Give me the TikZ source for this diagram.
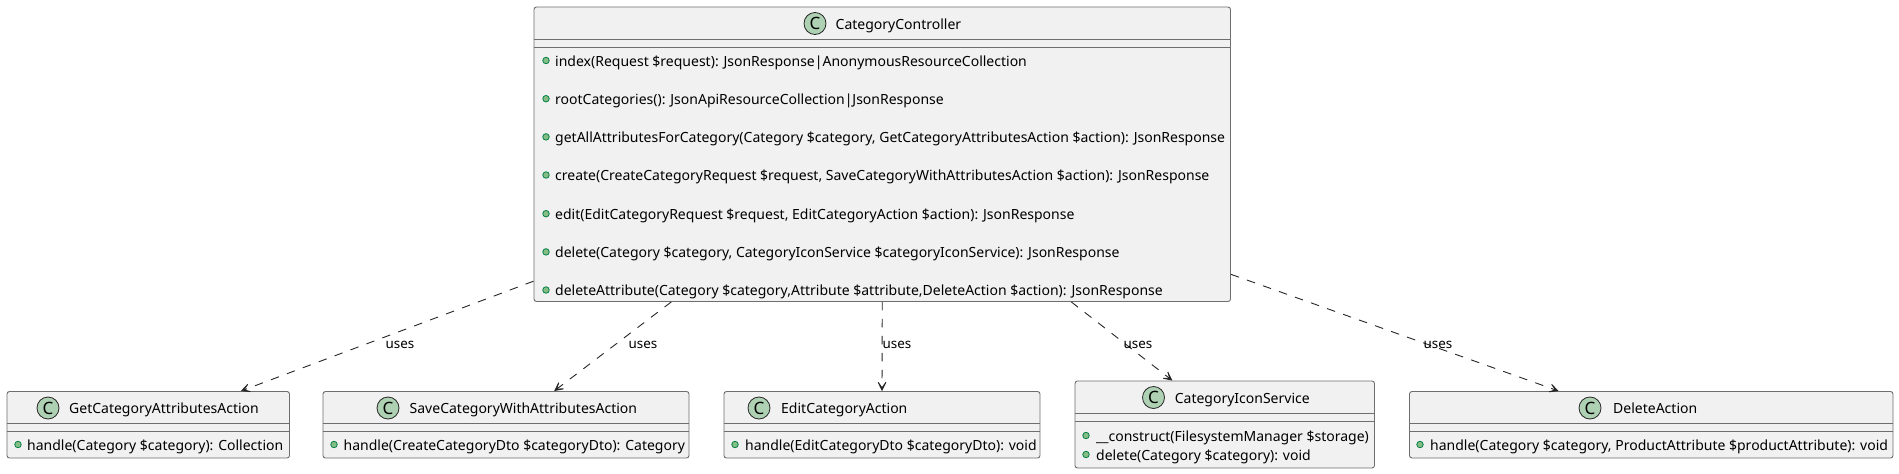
\documentclass[tikz,border=0pt]{standalone}
\usepackage{fontspec}
\setmainfont{Noto Sans}
\usetikzlibrary{arrows.meta}
\definecolor{boxfill}{HTML}{F1F1F1}
\definecolor{boxline}{HTML}{6E6E6E}
\definecolor{iconfill}{HTML}{ADD1B2}
\definecolor{dotfill}{HTML}{84BE84}
\definecolor{dotline}{HTML}{038048}
\tikzset{
  umlbox/.style={draw=boxline,fill=boxfill,line width=0.9pt,rounded corners=2.5pt,inner sep=0pt},
  divider/.style={draw=boxline,line width=0.9pt},
  classicon/.style={circle,draw=black!85,fill=iconfill,line width=0.8pt,minimum size=22pt,inner sep=0pt,font=\fontsize{17}{17}\selectfont},
  classname/.style={anchor=base west,inner sep=0pt,font=\fontsize{14}{18}\selectfont},
  membertext/.style={anchor=base west,inner sep=0pt,font=\fontsize{14}{18}\selectfont},
  memberdot/.style={circle,draw=dotline,fill=dotfill,line width=0.8pt,minimum size=6.5pt,inner sep=0pt},
  uses/.style={dashed,dash pattern=on 8.5pt off 8.5pt,line width=0.9pt,draw=black!85,-{Stealth[length=14pt,width=14pt,inset=10pt]}},
  useslabel/.style={inner sep=0pt,font=\fontsize{13.4}{18}\selectfont}
}
% name, centre x, centre y, width, height, first divider y, second divider y
\newcommand{\umlclass}[7]{
  \node (#1) [umlbox,minimum width=#4pt,minimum height=#5pt] at (#2,#3) {};
  \draw[divider] (#1.west |- 0,#6) -- (#1.east |- 0,#6);
  \draw[divider] (#1.west |- 0,#7) -- (#1.east |- 0,#7);
}
% box name, icon x, text x, icon y, baseline y, text
\newcommand{\classhead}[6]{
  \node (#1icon) [classicon] at (#2,#4) {C};
  \node (#1name) [classname] at (#3,#5) {#6};
}
% node name, dot x, text x, baseline y, text
\newcommand{\member}[5]{
  \node (#1dot) [memberdot] at (#2,#4-5.5) {};
  \node (#1) [membertext] at (#3,#4) {#5};
}
\begin{document}
\begin{tikzpicture}[x=1pt,y=-1pt]
\useasboundingbox (0,0) rectangle (1899,474);

% controller
\umlclass{main}{882.25}{154.25}{696.5}{294.5}{39}{47}
\classhead{main}{815}{835.5}{23.5}{29}{CategoryController}
\member{mindex}{546}{555}{66}{index(Request \$request): JsonResponse|AnonymousResourceCollection}
\member{mroot}{546}{555}{104.2}{rootCategories(): JsonApiResourceCollection|JsonResponse}
\member{mattrs}{546}{555}{142.4}{getAllAttributesForCategory(Category \$category, GetCategoryAttributesAction \$action): JsonResponse}
\member{mcreate}{546}{555}{180.5}{create(CreateCategoryRequest \$request, SaveCategoryWithAttributesAction \$action): JsonResponse}
\member{medit}{546}{555}{219.2}{edit(EditCategoryRequest \$request, EditCategoryAction \$action): JsonResponse}
\member{mdelete}{546}{555}{257.4}{delete(Category \$category, CategoryIconService \$categoryIconService): JsonResponse}
\member{mdelattr}{546}{555}{295.5}{deleteAttribute(Category \$category,Attribute \$attribute,DeleteAction \$action): JsonResponse}

% actions
\umlclass{getattrs}{148.25}{424.75}{282.5}{66.5}{423}{431}
\classhead{getattrs}{48}{69}{408}{413}{GetCategoryAttributesAction}
\member{hgetattrs}{18}{27}{450}{handle(Category \$category): Collection}

\umlclass{save}{506}{424.75}{366}{66.5}{423}{431}
\classhead{save}{388}{409.5}{408}{413}{SaveCategoryWithAttributesAction}
\member{hsave}{334}{343.5}{450}{handle(CreateCategoryDto \$categoryDto): Category}

\umlclass{editact}{882}{424.75}{316}{66.5}{423}{431}
\classhead{editact}{759}{781}{408}{413}{EditCategoryAction}
\member{hedit}{735}{745}{450}{handle(EditCategoryDto \$categoryDto): void}

\umlclass{icons}{1224.75}{424.5}{299.5}{87}{413}{421}
\classhead{icons}{1153.5}{1174.6}{397.5}{403}{CategoryIconService}
\member{iconstruct}{1086}{1096}{441}{\_\_construct(FilesystemManager \$storage)}
\member{idelete}{1086}{1096}{460}{delete(Category \$category): void}

\umlclass{delact}{1651.25}{424.75}{483.5}{66.5}{423}{431}
\classhead{delact}{1590}{1613}{408}{413}{DeleteAction}
\member{hdelact}{1420}{1430}{450}{handle(Category \$category, ProductAttribute \$productAttribute): void}

% dependencies
\draw[uses] (main.200.14) -- (getattrs.20.54);
\draw[uses] (main.215.79) -- (save.35.87);
\draw[uses] (main.270) -- (editact.90);
\draw[uses] (main.-38.11) -- (icons.140.5);
\draw[uses] (main.-19.42) -- (delact.160.76);

\node (l1) [useslabel] at (400,345) {uses};
\node (l2) [useslabel] at (643,345) {uses};
\node (l3) [useslabel] at (897,345) {uses};
\node (l4) [useslabel] at (1138,345) {uses};
\node (l5) [useslabel] at (1438,345) {uses};
\end{tikzpicture}
\end{document}
